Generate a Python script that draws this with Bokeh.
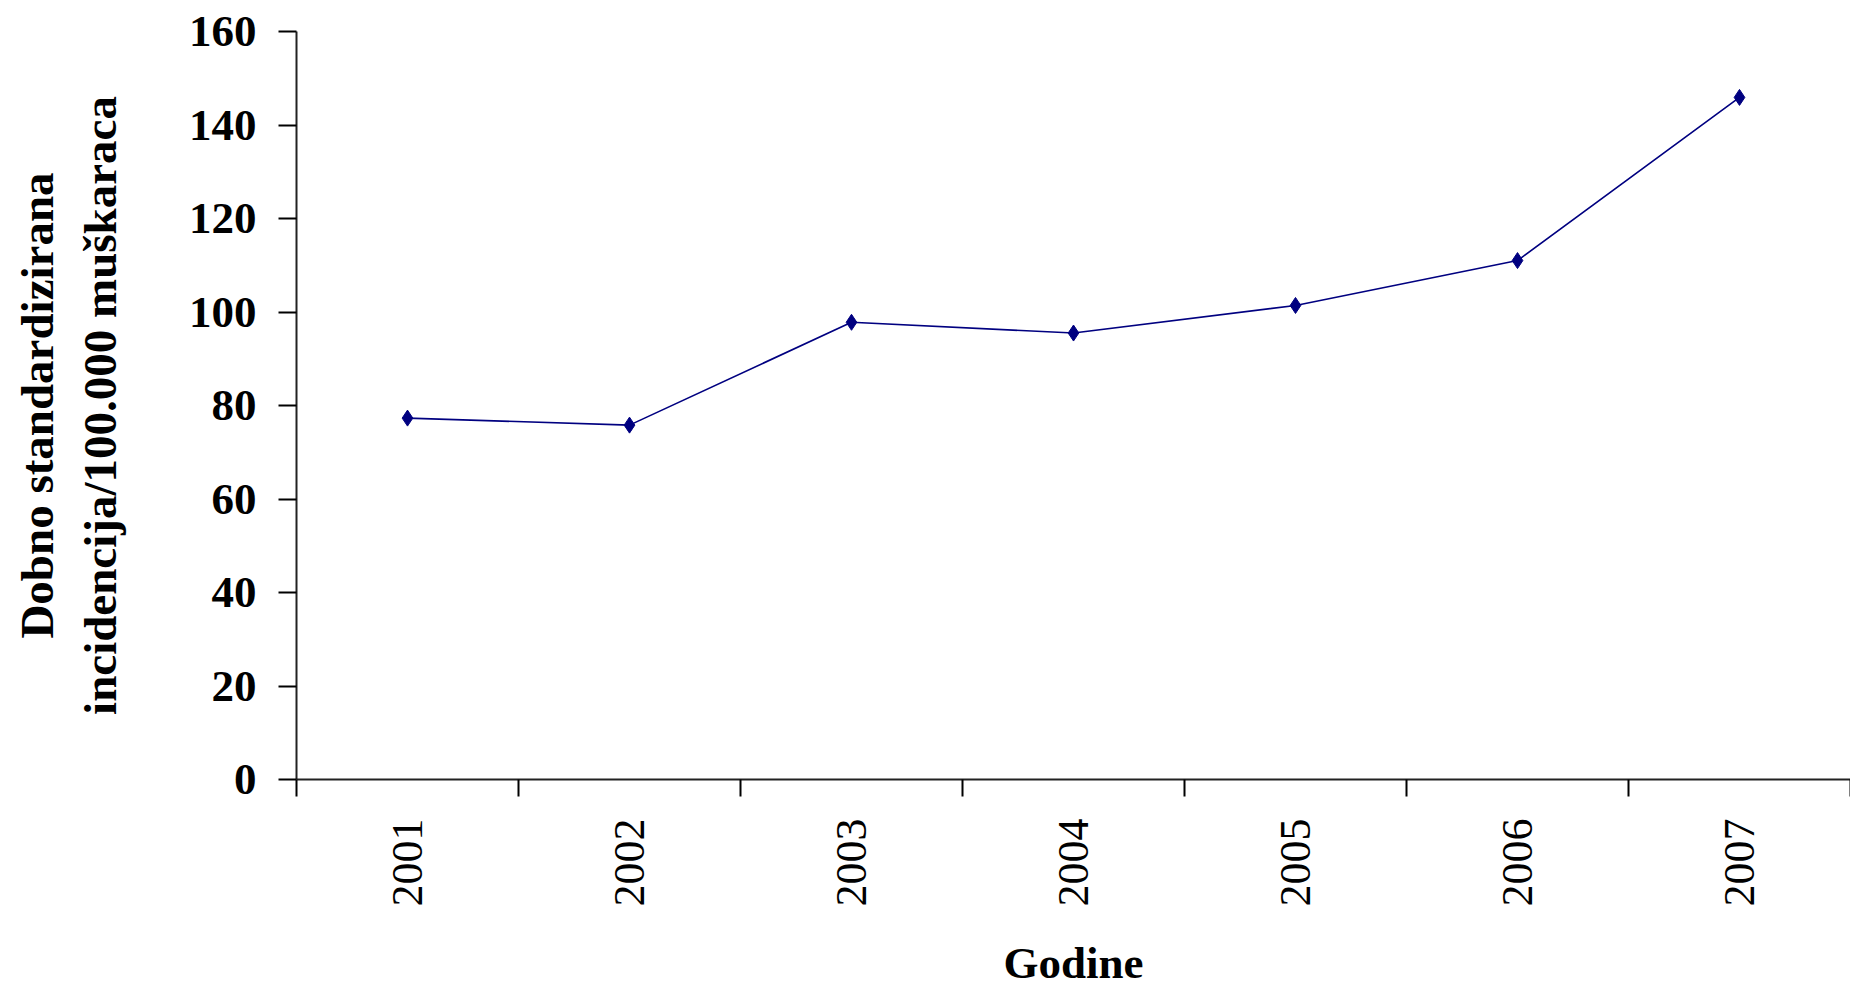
import math
from bokeh.plotting import figure
from bokeh.models import FixedTicker, Range1d, ColumnDataSource
from bokeh.embed import file_html
from bokeh.resources import INLINE

# Data
years = ["2001", "2002", "2003", "2004", "2005", "2006", "2007"]
incidence = [77.3, 75.8, 97.8, 95.5, 101.4, 111.0, 145.9]
y_ticks = [0, 20, 40, 60, 80, 100, 120, 140, 160]

xpos = [i + 0.5 for i in range(len(years))]
src = ColumnDataSource(dict(x=xpos, y=incidence, year=years))

p = figure(width=1850, height=990, output_backend="svg", toolbar_location=None,
           x_range=Range1d(0, len(years)), y_range=Range1d(0, 160),
           min_border_left=296, min_border_right=0, min_border_top=31, min_border_bottom=210)
p.outline_line_color = None
p.xgrid.grid_line_color = None
p.ygrid.grid_line_color = None
p.background_fill_color = "white"
p.border_fill_color = "white"

navy = "#000080"
p.line("x", "y", source=src, line_color=navy, line_width=1.6)
p.scatter("x", "y", source=src, marker="diamond", size=16, fill_color=navy, line_color=navy)

serif = "Liberation Serif"

# X axis: labels at category centres, ticks at category boundaries
xa = p.xaxis[0]
xa.ticker = FixedTicker(ticks=xpos, minor_ticks=list(range(len(years) + 1)))
xa.major_label_overrides = {x: y for x, y in zip(xpos, years)}
xa.major_tick_line_color = None
xa.major_tick_out = 0
xa.major_tick_in = 0
xa.minor_tick_line_color = "black"
xa.minor_tick_line_width = 2
xa.minor_tick_out = 17
xa.minor_tick_in = 0
xa.axis_line_width = 2
xa.axis_line_color = "#222222"
xa.major_label_orientation = math.pi / 2
xa.major_label_text_font = serif
xa.major_label_text_font_size = "44px"
xa.major_label_text_color = "black"
xa.major_label_standoff = 22
xa.axis_label = "Godine"
xa.axis_label_text_font = serif
xa.axis_label_text_font_style = "bold"
xa.axis_label_text_font_size = "45px"
xa.axis_label_text_color = "black"
xa.axis_label_standoff = 28

# Y axis
ya = p.yaxis[0]
ya.ticker = FixedTicker(ticks=y_ticks)
ya.minor_tick_line_color = None
ya.major_tick_out = 18
ya.major_tick_in = 0
ya.major_tick_line_width = 2
ya.major_tick_line_color = "black"
ya.axis_line_width = 2
ya.axis_line_color = "#222222"
ya.major_label_text_font = serif
ya.major_label_text_font_style = "bold"
ya.major_label_text_font_size = "45px"
ya.major_label_text_color = "black"
ya.major_label_standoff = 22
ya.axis_label = "Dobno standardizirana\nincidencija/100.000 muškaraca"
ya.axis_label_text_font = serif
ya.axis_label_text_font_style = "bold"
ya.axis_label_text_font_size = "47px"
ya.axis_label_text_color = "black"
ya.axis_label_text_line_height = 1.22
ya.axis_label_standoff = 60

open("out.html", "w").write(file_html(p, INLINE))
